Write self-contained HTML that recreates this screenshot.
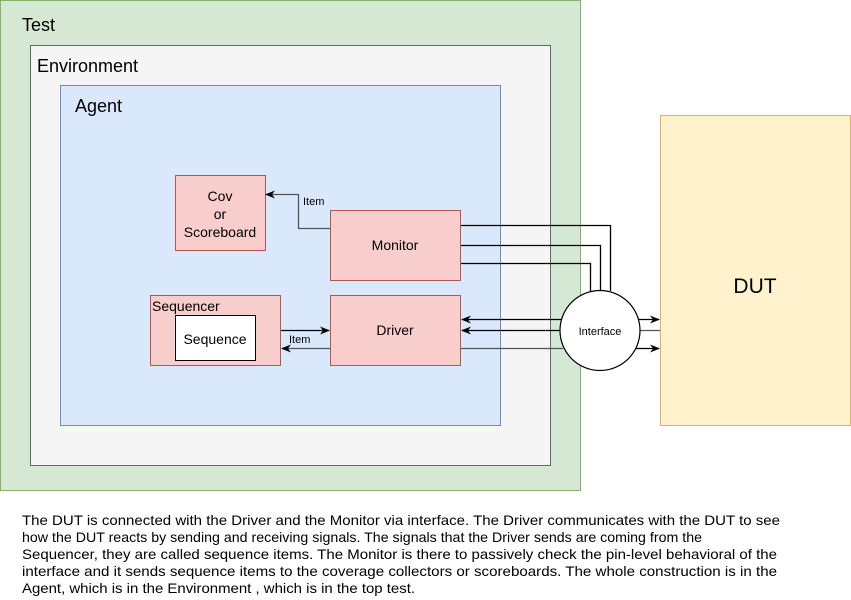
<!DOCTYPE html>
<html><head><meta charset="utf-8"><style>
html,body{margin:0;padding:0;background:#fff;width:851px;height:600px;overflow:hidden}
svg{display:block;font-family:"Liberation Sans",Arial,sans-serif}
</style></head><body>
<svg width="851" height="600" viewBox="0 0 851 600" xmlns="http://www.w3.org/2000/svg">
<defs>
<marker id="a" viewBox="0 0 10 10" refX="9" refY="5" markerWidth="10" markerHeight="10" markerUnits="userSpaceOnUse" orient="auto"><path d="M0,1 L10,5 L0,9 L3,5 z" fill="#000"/></marker>
</defs>
<rect x="0.5" y="0.5" width="580" height="490" fill="#d5e8d4" stroke="#82b366"/>
<text x="22" y="31" font-size="18">Test</text>
<rect x="30.5" y="45.5" width="520" height="420" fill="#f5f5f5" stroke="#666"/>
<text x="37" y="72" font-size="18">Environment</text>
<rect x="60.5" y="85.5" width="440" height="340" fill="#dae8fc" stroke="#6c8ebf"/>
<text x="75" y="112" font-size="18">Agent</text>
<rect x="660.5" y="115.5" width="190" height="310" fill="#fff2cc" stroke="#d6b656"/>
<text x="755" y="293" font-size="21" text-anchor="middle">DUT</text>

<rect x="175.5" y="175.5" width="90" height="75" fill="#f8cecc" stroke="#b85450"/>
<text font-size="14" text-anchor="middle"><tspan x="220" y="201">Cov</tspan><tspan x="220" y="219">or</tspan><tspan x="220" y="237">Scoreboard</tspan></text>
<rect x="330.5" y="210.5" width="130" height="70" fill="#f8cecc" stroke="#b85450"/>
<text x="395" y="250" font-size="14" text-anchor="middle">Monitor</text>
<rect x="150.5" y="295.5" width="130" height="70" fill="#f8cecc" stroke="#b85450"/>
<text x="152" y="311" font-size="14">Sequencer</text>
<rect x="175.5" y="315.5" width="80" height="45" fill="#fff" stroke="#000"/>
<text x="215" y="344" font-size="14" text-anchor="middle">Sequence</text>
<rect x="330.5" y="295.5" width="130" height="70" fill="#f8cecc" stroke="#b85450"/>
<text x="395" y="335" font-size="14" text-anchor="middle">Driver</text>

<g fill="none" stroke-width="1.3">
<path d="M330,228.5 H298.5 V194.5 H266" stroke="#555" marker-end="url(#a)"/>
<path d="M281,330.5 H329" stroke="#000" marker-end="url(#a)"/>
<path d="M330,348.5 H282" stroke="#555" marker-end="url(#a)"/>
<path d="M461,225.5 H610.5 V291" stroke="#000"/>
<path d="M461,245.5 H600.5 V290" stroke="#000"/>
<path d="M461,263.5 H590.5 V293" stroke="#000"/>
<path d="M561,319.5 H462" stroke="#000" marker-end="url(#a)"/>
<path d="M561,330.5 H462" stroke="#000" marker-end="url(#a)"/>
<path d="M461,348.5 H563" stroke="#555"/>
<path d="M638,319.5 H659" stroke="#000" marker-end="url(#a)"/>
<path d="M640,330.5 H660" stroke="#555"/>
<path d="M636,348.5 H659" stroke="#000" marker-end="url(#a)"/>
</g>
<circle cx="600" cy="330.5" r="40" fill="#fff" stroke="#000" stroke-width="1.2"/>
<text x="600" y="335" font-size="11" text-anchor="middle">Interface</text>
<text x="303" y="205" font-size="11">Item</text>
<text x="289" y="343" font-size="11">Item</text>

<g font-size="14" fill="#000">
<text x="22" y="525" textLength="758" lengthAdjust="spacingAndGlyphs">The DUT is connected with the Driver and the Monitor via interface. The Driver communicates with the DUT to see</text>
<text x="22" y="542" textLength="680" lengthAdjust="spacingAndGlyphs">how the DUT reacts by sending and receiving signals. The signals that the Driver sends are coming from the</text>
<text x="22" y="559" textLength="755" lengthAdjust="spacingAndGlyphs">Sequencer, they are called sequence items. The Monitor is there to passively check the pin-level behavioral of the</text>
<text x="22" y="576" textLength="755" lengthAdjust="spacingAndGlyphs">interface and it sends sequence items to the coverage collectors or scoreboards. The whole construction is in the</text>
<text x="22" y="593" textLength="393" lengthAdjust="spacingAndGlyphs">Agent, which is in the Environment , which is in the top test.</text>
</g>
</svg>
</body></html>
